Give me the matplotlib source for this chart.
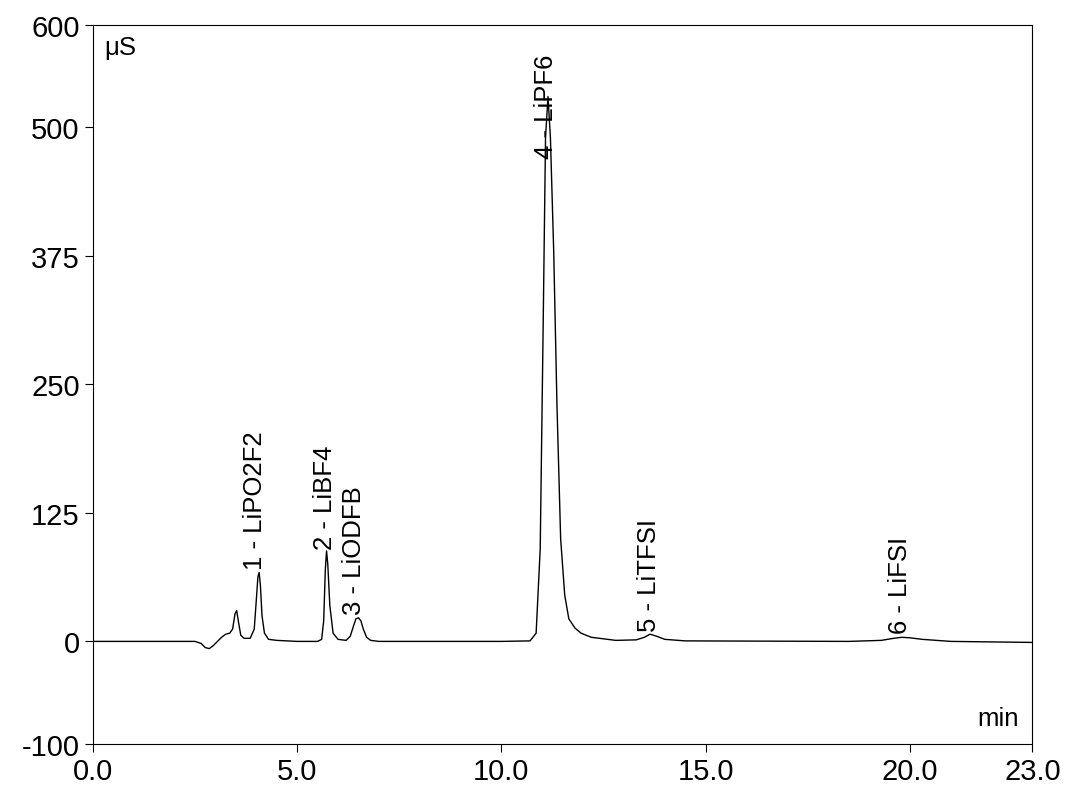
import matplotlib
matplotlib.use("Agg")
import matplotlib.pyplot as plt

plt.rcParams['font.family'] = ['Liberation Sans', 'DejaVu Sans']
plt.rcParams['axes.unicode_minus'] = False

time_min = [0, 2.5, 2.65, 2.75, 2.85, 2.95, 3.05, 3.15, 3.25, 3.35,
            3.42, 3.48, 3.52, 3.56, 3.62, 3.7, 3.85, 3.95, 4.0, 4.04,
            4.07, 4.1, 4.14, 4.2, 4.3, 4.5, 5.0, 5.5, 5.6, 5.65,
            5.69, 5.72, 5.75, 5.8, 5.88, 6.0, 6.2, 6.3, 6.38, 6.44,
            6.5, 6.56, 6.62, 6.7, 6.8, 7.0, 8.0, 10.0, 10.7, 10.85,
            10.95, 11.02, 11.08, 11.14, 11.2, 11.28, 11.36, 11.45, 11.55, 11.65,
            11.8, 11.95, 12.2, 12.8, 13.3, 13.5, 13.64, 13.8, 14.0, 14.5,
            18.5, 19.3, 19.6, 19.8, 20.0, 20.3, 21.0, 23.0]
signal_us = [0, 0, -2, -6, -7, -4, 0, 4, 7, 8,
             12, 27, 30, 20, 6, 3, 3, 12, 40, 63,
             67, 55, 25, 8, 2, 1, 0, 0, 2, 20,
             70, 88, 75, 35, 8, 2, 1, 5, 15, 22,
             23, 20, 12, 4, 1, 0, 0, 0, 0.5, 8,
             90, 300, 490, 530, 490, 380, 230, 100, 45, 22,
             13, 8, 4, 1, 1.5, 4, 7, 5, 2, 0.5,
             0, 1, 3, 4, 3.5, 2, 0, -1]

peak_labels = ["1 - LiPO2F2", "2 - LiBF4", "3 - LiODFB", "4 - LiPF6", "5 - LiTFSI", "6 - LiFSI"]
peak_label_x = [3.98, 5.68, 6.4, 11.08, 13.62, 19.75]
peak_label_y = [70, 90, 27, 470, 10, 8]

x_ticks = [0, 5, 10, 15, 20, 23]
x_tick_labels = ["0.0", "5.0", "10.0", "15.0", "20.0", "23.0"]
y_ticks = [-100, 0, 125, 250, 375, 500, 600]

fig = plt.figure(figsize=(10.8, 8.03), dpi=100)
ax = fig.add_axes([0.086, 0.072, 0.870, 0.896])
ax.plot(time_min, signal_us, color='black', lw=1.0)
for lab, x, y in zip(peak_labels, peak_label_x, peak_label_y):
    ax.text(x, y, lab, rotation=90, ha='center', va='bottom', fontsize=18.5)
ax.set_xlim(0, 23)
ax.set_ylim(-100, 600)
ax.set_xticks(x_ticks)
ax.set_xticklabels(x_tick_labels)
ax.set_yticks(y_ticks)
ax.tick_params(labelsize=21, direction='out', length=6)
ax.text(0.012, 0.985, "μS", transform=ax.transAxes, ha='left', va='top', fontsize=18.5)
ax.text(0.985, 0.02, "min", transform=ax.transAxes, ha='right', va='bottom', fontsize=18.5)
fig.savefig("out.png", dpi=100)
